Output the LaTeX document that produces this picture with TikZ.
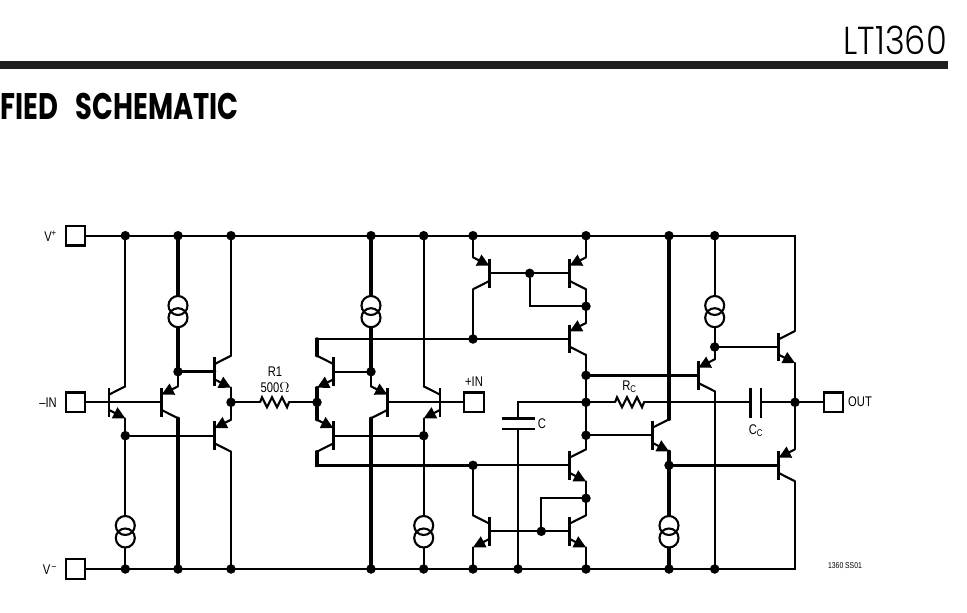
\documentclass[tikz,border=0pt]{standalone}
\usepackage{fontspec}
\setmainfont[FakeStretch=0.8]{Liberation Sans}
\newfontfamily\titlefont[FakeStretch=0.74]{Poppins}
\newfontfamily\partfont[FakeStretch=0.865]{Poppins Light}
\usetikzlibrary{arrows.meta}
\tikzset{
  wire/.style={line width=2.1pt,line cap=round,line join=miter},
  medw/.style={line width=2.7pt,line cap=round},
  heavy/.style={line width=3.4pt,line cap=round},
  dot/.style={circle,fill=black,inner sep=0pt,minimum size=9.5pt},
  pin/.style={draw,rectangle,line width=2.3pt,inner sep=0pt,minimum size=19.5pt},
  src/.style={draw,circle,line width=2.1pt,inner sep=0pt,minimum size=19pt},
  lab/.style={inner sep=0pt,font=\fontsize{14}{14}\selectfont},
  em/.style={line width=2.1pt},
}
% name, bar x, bar y, lead side (+1 right, -1 left), emitter side (+1 below, -1 above), arrow style
\newcommand{\bjt}[6]{%
  \coordinate (#1-b) at (#2,#3);
  \coordinate (#1-bt) at (#2,#3-14.3);
  \coordinate (#1-bb) at (#2,#3+14.3);
  \coordinate (#1-c) at (#2+16.3*#4,#3-16*#5);
  \coordinate (#1-e) at (#2+16.3*#4,#3+16*#5);
  \coordinate (#1-ci) at (#2,#3-7.7*#5);
  \coordinate (#1-ei) at (#2,#3+7.7*#5);
  \draw[line width=2.8pt] (#1-bt) -- (#1-bb);
  \draw[wire] (#1-ci) -- (#1-c);
  \draw[em,#6] (#1-ei) -- (#1-e);
}
\tikzset{
  aout/.style={-{Triangle[length=12pt,width=12pt]}},
  ain/.style={{Triangle[length=12pt,width=12pt]}-},
}
\newcommand{\res}[2]{\draw[wire,line cap=butt] (#1,#2) -- ++(2,-5) -- ++(5,10) -- ++(5,-10) -- ++(5,10) -- ++(5,-10) -- ++(5,10) -- ++(2,-5);}
\begin{document}
\begin{tikzpicture}[x=1pt,y=-1pt]
\useasboundingbox (0,0) rectangle (967,613);
% header
\fill[black!88] (0,61) rectangle (948,68.7);
\node[inner sep=0pt,anchor=base east] (part) at (947,54.5) {\fontsize{39}{39}\selectfont\partfont LT1360};
\node[inner sep=0pt,anchor=base west] (title) at (0,119) {\fontsize{37}{37}\selectfont\titlefont\bfseries FIED\hspace{12pt} SCHEMATIC};
% pins
\node[pin] (vp) at (75.5,235.7) {};
\node[pin] (vm) at (75.5,569) {};
\node[pin] (nin) at (75.5,402.3) {};
\node[pin] (pin2) at (474,402.3) {};
\node[pin] (out) at (833.5,402.3) {};
\node[lab,anchor=east] (lvp) at (57,236.5) {V\textsuperscript{+}};
\node[lab,anchor=east] (lvm) at (57,570) {V\textsuperscript{\,–}};
\node[lab,anchor=east] (lnin) at (57,402.5) {–IN};
\node[lab] (lpin) at (474,381.5) {+IN};
\node[lab,anchor=west] (lout) at (848,402) {OUT};
\node[lab] (lr1) at (275,372) {R1};
\node[lab] (lr1v) at (275,388) {500$\Omega$};
\node[lab] (lrc) at (629.5,387) {R\textsubscript{C}};
\node[lab] (lc) at (542,423.5) {C};
\node[lab] (lcc) at (756,431) {C\textsubscript{C}};
\node[inner sep=0pt,font=\fontsize{8.5}{9}\selectfont] (ss) at (845,566) {1360 SS01};
% top rail dots
\foreach \n/\x in {t1/125.3,t2/178,t3/231,t4/371,t5/423.7,t6/473,t7/586,t8/669,t9/714.7}
  \node[dot] (\n) at (\x,235.7) {};
\foreach \n/\x in {b1/125.3,b2/178,b3/231,b4/371,b5/423.7,b6/473,b7/518,b8/586,b9/669,b10/714.7}
  \node[dot] (\n) at (\x,569) {};
\coordinate (tc) at (795,235.7);
\coordinate (bc) at (795,569);
% other junctions
\node[dot] (j1) at (125.3,435.7) {};
\node[dot] (j2) at (178,371.7) {};
\node[dot] (j3) at (231,402.3) {};
\node[dot] (j4) at (317,402.3) {};
\node[dot] (j5) at (371,371.7) {};
\node[dot] (j6) at (423.7,435.7) {};
\node[dot] (j7) at (473,339) {};
\node[dot] (j8) at (473,465.3) {};
\node[dot] (j9) at (529.7,273.3) {};
\node[dot] (j10) at (586,306.3) {};
\node[dot] (j11) at (586,375.3) {};
\node[dot] (j12) at (586,402.3) {};
\node[dot] (j13) at (586,435.3) {};
\node[dot] (j14) at (586,498.3) {};
\node[dot] (j15) at (541.3,531.3) {};
\node[dot] (j16) at (669,465.3) {};
\node[dot] (j17) at (714.7,347) {};
\node[dot] (j18) at (795,402.3) {};
% current sources
\node[src] (s1a) at (178,305.5) {}; \node[src] (s1b) at (178,317.7) {};
\node[src] (s2a) at (371,305.5) {}; \node[src] (s2b) at (371,317.7) {};
\node[src] (s3a) at (714.7,305.5) {}; \node[src] (s3b) at (714.7,317.7) {};
\node[src] (s4a) at (125.3,525.5) {}; \node[src] (s4b) at (125.3,538) {};
\node[src] (s5a) at (423.7,525.5) {}; \node[src] (s5b) at (423.7,538) {};
\node[src] (s6a) at (669,525.5) {}; \node[src] (s6b) at (669,538) {};
% transistors
\bjt{q1}{109}{402.3}{1}{1}{aout}
\bjt{q2}{161.7}{402.3}{1}{-1}{ain}
\bjt{q3}{214.7}{371.7}{1}{1}{aout}
\bjt{q4}{214.7}{435.7}{1}{-1}{ain}
\bjt{q5}{333.3}{371.7}{-1}{1}{aout}
\bjt{q6}{387.3}{402.3}{-1}{-1}{ain}
\bjt{q7}{333.3}{435.7}{-1}{-1}{ain}
\bjt{q8}{440}{402.3}{-1}{1}{aout}
\bjt{q9}{489.3}{273.3}{-1}{-1}{ain}
\bjt{q10}{569.7}{273.3}{1}{-1}{ain}
\bjt{q11}{569.7}{339}{1}{-1}{ain}
\bjt{q12}{569.7}{465.3}{1}{1}{aout}
\bjt{q13}{489.3}{531.3}{-1}{1}{aout}
\bjt{q14}{569.7}{531.3}{1}{1}{aout}
\bjt{q15}{698.4}{375.3}{1}{-1}{ain}
\bjt{q16}{652.7}{435.3}{1}{1}{aout}
\bjt{q17}{778.7}{347}{1}{1}{aout}
\bjt{q18}{778.7}{465.3}{1}{-1}{ain}
% rails
\draw[wire,line cap=butt,line join=miter] (vp.east) -- (t1.center) -- (tc) -- (q17-c);
\draw[wire,line cap=butt,line join=miter] (vm.east) -- (b1.center) -- (bc) -- (q18-c);
% first stage
\draw[wire] (t1.center) -- (q1-c);
\draw[wire] (nin.east) -- (q2-b);
\draw[wire] (q1-e) -- (j1.center) -- (s4a.north);
\draw[wire] (s4b.south) -- (b1.center);
\draw[wire] (j1.center) -- (q4-b);
\draw[heavy] (t2.center) -- (s1a.north);
\draw[heavy] (s1b.south) -- (j2.center);
\draw[medw] (j2.center) -- (q2-e);
\draw[heavy] (j2.center) -- (q3-b);
\draw[heavy] (q2-c) -- (b2.center);
\draw[wire] (t3.center) -- (q3-c);
\draw[medw] (q3-e) -- (q4-e);
\draw[wire] (q4-c) -- (b3.center);
\draw[wire] (j3.center) -- (260,402.3);
\res{260}{402.3}
\draw[wire] (289,402.3) -- (j4.center);
% second stage
\draw[heavy] (q5-e) -- (q7-e);
\draw[wire] (q5-b) -- (j5.center);
\draw[heavy] (q5-c) -- (317,339);
\draw[medw,line cap=butt] (315.3,339) -- (j7.center);
\draw[wire] (j7.center) -- (q11-b);
\draw[heavy] (q7-c) -- (317,465.3);
\draw[medw,line cap=butt] (315.3,465.3) -- (j8.center);
\draw[wire] (j8.center) -- (q12-b);
\draw[heavy] (t4.center) -- (s2a.north);
\draw[heavy] (s2b.south) -- (j5.center);
\draw[medw] (j5.center) -- (q6-e);
\draw[heavy] (q6-c) -- (b4.center);
\draw[wire] (t5.center) -- (q8-c);
\draw[wire] (q6-b) -- (pin2.west);
\draw[wire] (q8-e) -- (j6.center) -- (s5a.north);
\draw[wire] (s5b.south) -- (b5.center);
\draw[wire] (q7-b) -- (j6.center);
% current mirrors
\draw[wire] (t6.center) -- (q9-e);
\draw[wire] (q9-c) -- (j7.center);
\draw[wire] (q9-b) -- (q10-b);
\draw[wire,line join=miter] (j9.center) -- (529.7,306.3) -- (j10.center);
\draw[wire] (t7.center) -- (q10-e);
\draw[wire] (q10-c) -- (j10.center) -- (q11-e);
\draw[medw] (q11-c) -- (j11.center) -- (j13.center) -- (q12-c);
\draw[wire] (q12-e) -- (j14.center) -- (q14-c);
\draw[wire,line join=miter] (j14.center) -- (541.3,498.3) -- (j15.center);
\draw[wire] (q13-b) -- (q14-b);
\draw[wire] (j8.center) -- (q13-c);
\draw[wire] (q13-e) -- (b6.center);
\draw[wire] (q14-e) -- (b8.center);
% compensation
\coordinate (cpa) at (518,418.3);
\coordinate (cpb) at (518,429);
\draw[wire,line cap=butt,line join=miter] (j12.center) -- (518,402.3) -- (cpa);
\draw[wire] (cpb) -- (b7.center);
\draw[line width=2.7pt] (502,418.3) -- (534.7,418.3);
\draw[line width=2.7pt] (502,429) -- (534.7,429);
\draw[wire] (j12.center) -- (615,402.3);
\res{615}{402.3}
\draw[wire] (644,402.3) -- (750.3,402.3);
\draw[line width=2.7pt] (750.3,387.7) -- (750.3,418.3);
\draw[line width=2.7pt] (761,387.7) -- (761,418.3);
\draw[wire] (761,402.3) -- (j18.center);
\draw[wire] (j18.center) -- (out.west);
% output stage
\draw[heavy] (j11.center) -- (q15-b);
\draw[wire] (j13.center) -- (q16-b);
\draw[heavy] (t8.center) -- (q16-c);
\draw[heavy] (q16-e) -- (j16.center);
\draw[heavy] (j16.center) -- (q18-b);
\draw[heavy] (j16.center) -- (s6a.north);
\draw[heavy] (s6b.south) -- (b9.center);
\draw[wire] (t9.center) -- (s3a.north);
\draw[wire] (s3b.south) -- (j17.center) -- (q15-e);
\draw[wire] (j17.center) -- (q17-b);
\draw[wire] (q15-c) -- (b10.center);
\draw[wire] (q17-e) -- (q18-e);
\end{tikzpicture}
\end{document}
